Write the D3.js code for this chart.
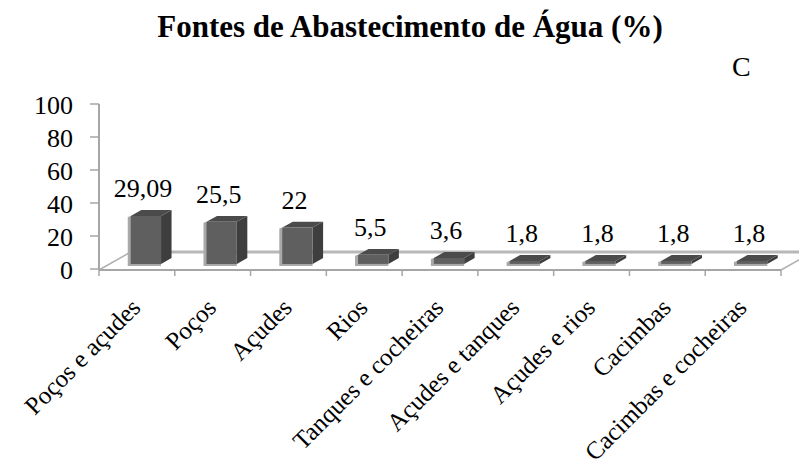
<!DOCTYPE html>
<html lang="pt">
<head>
<meta charset="UTF-8">
<title>Fontes de Abastecimento de Água (%)</title>
<script src="https://d3js.org/d3.v7.min.js"></script>
<style>
    body { margin: 0; background: #ffffff; }
    svg { display: block; }
</style>
</head>
<body>
<svg id="chart" width="799" height="470"></svg>
<script>
// --- data ---
const categories = ["Poços e açudes", "Poços", "Açudes", "Rios", "Tanques e cocheiras",
                    "Açudes e tanques", "Açudes e rios", "Cacimbas", "Cacimbas e cocheiras"];
const values = [29.09, 25.5, 22, 5.5, 3.6, 1.8, 1.8, 1.8, 1.8];
const valueLabels = ["29,09", "25,5", "22", "5,5", "3,6", "1,8", "1,8", "1,8", "1,8"];
const yTicks = [0, 20, 40, 60, 80, 100];

const FONT = "'Liberation Serif', 'Times New Roman', Times, 'DejaVu Serif', serif";

const svg = d3.select("#chart")
    .attr("font-family", FONT)
    .style("font-family", FONT);

// plot frame
const left = 99, right = 781, floorY = 269, topY = 104;
const depth = { dx: 30, dy: -17 };          // full floor depth
const barZ0 = 0.3, barZ1 = 0.65;             // bar position inside the depth

const x = d3.scaleBand().domain(categories).range([left, right])
    .paddingInner(0.6).paddingOuter(0.3);
const y = d3.scaleLinear().domain([0, 100]).range([floorY, topY]);

// project a point at depth z (0 front .. 1 back)
const P = (px, py, z) => [px + depth.dx * z, py + depth.dy * z];

// --- title ---
svg.append("text")
    .attr("x", 410).attr("y", 37)
    .attr("text-anchor", "middle")
    .style("font-family", FONT)
    .style("font-size", "31px").style("font-weight", "bold")
    .text("Fontes de Abastecimento de Água (%)");

svg.append("text")
    .attr("x", 732).attr("y", 76)
    .style("font-family", FONT)
    .style("font-size", "28px")
    .text("C");

// --- floor ---
const floor = [P(left, floorY + 1, 0), P(right, floorY + 1, 0), P(right, floorY + 1, 1), P(left, floorY + 1, 1)];
svg.append("path")
    .attr("d", d3.line()(floor) + "Z")
    .attr("fill", "#ffffff").attr("stroke", "none");
svg.append("line")
    .attr("x1", floor[3][0]).attr("y1", floor[3][1] - 1)
    .attr("x2", floor[2][0]).attr("y2", floor[2][1] - 1)
    .attr("stroke", "#b8b8b8").attr("stroke-width", 3);
svg.append("line")
    .attr("x1", floor[0][0]).attr("y1", floor[0][1])
    .attr("x2", floor[3][0]).attr("y2", floor[3][1])
    .attr("stroke", "#b0b0b0").attr("stroke-width", 1.5);
svg.append("line")
    .attr("x1", floor[1][0]).attr("y1", floor[1][1])
    .attr("x2", floor[2][0]).attr("y2", floor[2][1])
    .attr("stroke", "#b0b0b0").attr("stroke-width", 1.5);

// --- axes ---
const axisColor = "#a6a6a6";
svg.append("line")
    .attr("x1", left).attr("y1", topY)
    .attr("x2", left).attr("y2", floorY + 1)
    .attr("stroke", axisColor).attr("stroke-width", 2);
svg.append("line")
    .attr("x1", left).attr("y1", floorY + 1)
    .attr("x2", right).attr("y2", floorY + 1)
    .attr("stroke", axisColor).attr("stroke-width", 2);

const yt = svg.append("g").selectAll("g").data(yTicks).enter().append("g");
yt.append("line")
    .attr("x1", left - 9).attr("x2", left)
    .attr("y1", d => y(d)).attr("y2", d => y(d))
    .attr("stroke", axisColor).attr("stroke-width", 1.5);
yt.append("text")
    .attr("x", 73).attr("y", d => y(d) + 10)
    .attr("text-anchor", "end")
    .style("font-family", FONT)
    .style("font-size", "26px")
    .text(d => d);

// x ticks at category boundaries
const bounds = d3.range(categories.length + 1).map(i => left + i * x.step());
svg.append("g").selectAll("line").data(bounds).enter().append("line")
    .attr("x1", d => d).attr("x2", d => d)
    .attr("y1", floorY + 1).attr("y2", floorY + 7)
    .attr("stroke", axisColor).attr("stroke-width", 1.5);

// --- bars ---
const bars = svg.append("g").selectAll("g")
    .data(categories.map((c, i) => ({ c, v: values[i], label: valueLabels[i] })))
    .enter().append("g");

bars.each(function(d) {
    const g = d3.select(this);
    const x0 = x(d.c), x1 = x(d.c) + x.bandwidth();
    const yb = y(0), yt2 = y(d.v);
    const f = [P(x0, yt2, barZ0), P(x1, yt2, barZ0), P(x1, yb, barZ0), P(x0, yb, barZ0)];
    const b = [P(x0, yt2, barZ1), P(x1, yt2, barZ1), P(x1, yb, barZ1)];
    // light edge on the left and bottom
    g.append("path")
        .attr("d", d3.line()([[f[0][0] - 3, f[0][1] + 1], [f[3][0] - 3, f[3][1] + 2], [f[2][0], f[2][1] + 2], [f[2][0], f[2][1]], [f[0][0], f[0][1]]]) + "Z")
        .attr("fill", "#a9a9a9");
    // side face
    g.append("path")
        .attr("d", d3.line()([f[1], b[1], b[2], f[2]]) + "Z")
        .attr("fill", "#3e3e3e");
    // top face
    g.append("path")
        .attr("d", d3.line()([f[0], b[0], b[1], f[1]]) + "Z")
        .attr("fill", "#4b4b4b");
    // front face
    g.append("path")
        .attr("d", d3.line()(f) + "Z")
        .attr("fill", "#5f5f5f");
});

// value labels
bars.append("text")
    .attr("x", d => x(d.c) + x.bandwidth() / 2 + 6)
    .attr("y", d => P(0, y(d.v), barZ0)[1] - 19)
    .attr("text-anchor", "middle")
    .style("font-family", FONT)
    .style("font-size", "26px")
    .text(d => d.label);

// category labels, rotated
svg.append("g").selectAll("text").data(categories).enter().append("text")
    .attr("text-anchor", "end")
    .attr("transform", d => `translate(${x(d) + x.bandwidth() / 2 + 5},309) rotate(-45)`)
    .style("font-family", FONT)
    .style("font-size", "25px")
    .text(d => d);
</script>
</body>
</html>
